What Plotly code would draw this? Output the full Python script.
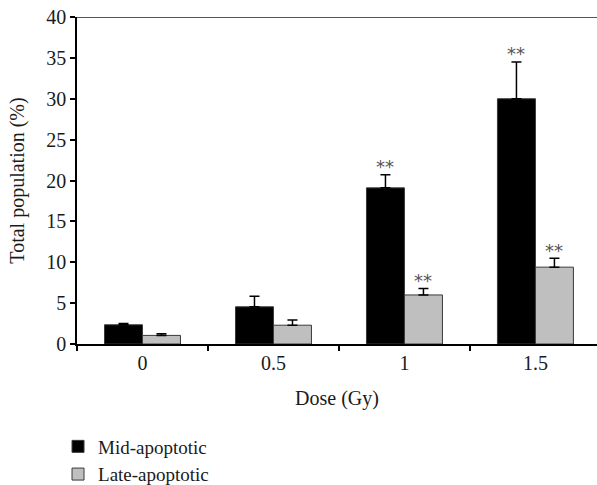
import plotly.graph_objects as go

doses = ["0", "0.5", "1", "1.5"]
mid_values = [2.35, 4.55, 19.1, 30.0]
mid_errors = [0.15, 1.3, 1.6, 4.5]
late_values = [1.05, 2.3, 6.0, 9.4]
late_errors = [0.2, 0.65, 0.8, 1.1]
mid_marks = ["", "", "**", "**"]
late_marks = ["", "", "**", "**"]
y_ticks = [0, 5, 10, 15, 20, 25, 30, 35, 40]

SERIF = "Liberation Serif, Times New Roman, serif"

fig = go.Figure()
fig.add_trace(go.Bar(
    name="Mid-apoptotic", x=doses, y=mid_values,
    marker=dict(color="#000000", line=dict(color="#3a3a3a", width=1)),
    error_y=dict(type="data", array=mid_errors, arrayminus=[0] * len(mid_errors),
                 symmetric=False, color="#000000", thickness=1.5, width=5),
))
fig.add_trace(go.Bar(
    name="Late-apoptotic", x=doses, y=late_values,
    marker=dict(color="#bfbfbf", line=dict(color="#3a3a3a", width=1)),
    error_y=dict(type="data", array=late_errors, arrayminus=[0] * len(late_errors),
                 symmetric=False, color="#000000", thickness=1.5, width=5),
))

star_font = dict(family="DejaVu Sans", size=18, color="#555")
for i, d in enumerate(doses):
    if mid_marks[i]:
        fig.add_annotation(x=i, y=mid_values[i] + mid_errors[i], text=mid_marks[i],
                           xshift=-19, yshift=8, showarrow=False, font=star_font)
    if late_marks[i]:
        fig.add_annotation(x=i, y=late_values[i] + late_errors[i], text=late_marks[i],
                           xshift=19, yshift=8, showarrow=False, font=star_font)

fig.add_shape(type="line", xref="paper", yref="y", x0=0, x1=1, y0=40, y1=40,
              line=dict(color="#555555", width=2))

fig.update_layout(
    width=597, height=485,
    margin=dict(l=77, r=0, t=17, b=141, autoexpand=False),
    paper_bgcolor="white", plot_bgcolor="white",
    barmode="group", bargap=0.42, bargroupgap=0,
    font=dict(family=SERIF, size=20, color="#1a1a1a"),
    showlegend=True,
    legend=dict(x=-0.0365, xanchor="left", y=-0.2554, yanchor="top",
                font=dict(family=SERIF, size=19, color="#1a1a1a"),
                bgcolor="rgba(0,0,0,0)", tracegroupgap=0),
    xaxis=dict(range=[-0.5, 3.47], type="category", showline=True, linecolor="#000",
               linewidth=1.5, ticks="outside", tickson="boundaries", ticklen=5,
               tickcolor="#000", tickwidth=1.5, showgrid=False, zeroline=False,
               automargin=True,
               title=dict(text="Dose (Gy)", standoff=18, font=dict(size=20))),
    yaxis=dict(range=[0, 40], tickvals=y_ticks, showline=True, linecolor="#000",
               linewidth=1.5, ticks="outside", ticklen=5, tickcolor="#000",
               tickwidth=1.5, showgrid=False, zeroline=False, automargin=True,
               ticksuffix="\u00a0",
               title=dict(text="Total population (%)", standoff=16, font=dict(size=20))),
)

fig.write_html("out.html", config={"displayModeBar": False},
               post_script="document.body.style.margin='0';")
